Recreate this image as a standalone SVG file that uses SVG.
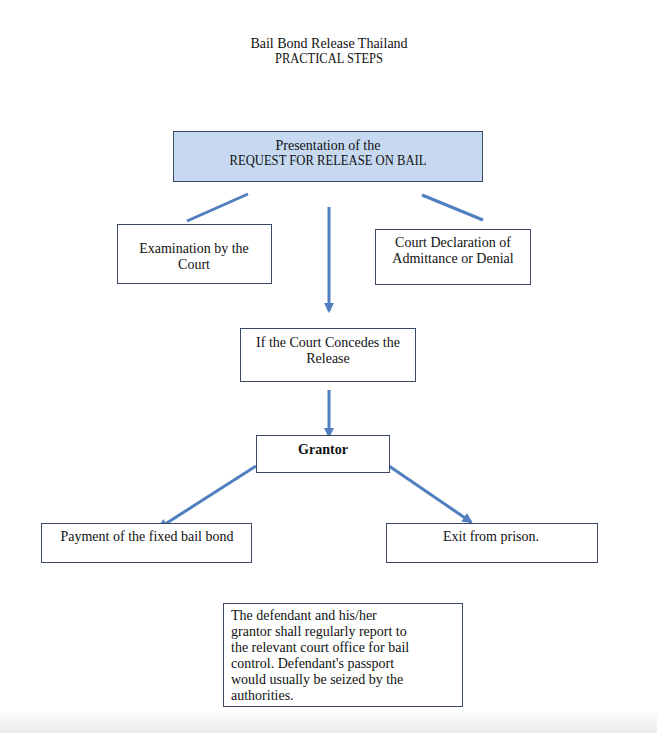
<svg xmlns="http://www.w3.org/2000/svg" width="657" height="733" viewBox="0 0 657 733">
<style>
text{font-family:"Liberation Serif","DejaVu Serif",serif;font-size:14px;fill:#111;}
.c{text-anchor:middle;}
.b{font-weight:bold;}
.box{fill:#fff;stroke:#3b4866;stroke-width:1;}
.top{fill:#c6d9f1;stroke:#3b4866;stroke-width:1;}
.ln{stroke:#4f7fbf;stroke-width:3;fill:none;}
</style>
<defs>
<marker id="ah" viewBox="0 0 10 10" refX="8" refY="5" markerWidth="3.5" markerHeight="3.5" orient="auto" markerUnits="strokeWidth">
<path d="M0,0 L10,5 L0,10 z" fill="#4f7fbf"/>
</marker>
<linearGradient id="pg" x1="0" y1="0" x2="0" y2="1">
<stop offset="0" stop-color="#fafafa"/>
<stop offset="1" stop-color="#ededed"/>
</linearGradient>
</defs>
<rect x="0" y="0" width="657" height="733" fill="#fff"/>
<rect x="0" y="713" width="657" height="20" fill="url(#pg)"/>
<g id="title">
<text class="c" x="329" y="48">Bail Bond Release Thailand</text>
<text class="c" x="329" y="63" textLength="108" lengthAdjust="spacingAndGlyphs">PRACTICAL STEPS</text>
</g>
<g id="connectors">
<line class="ln" x1="248" y1="194" x2="187" y2="221"/>
<line class="ln" x1="422" y1="195" x2="483" y2="220"/>
<line class="ln" x1="329" y1="207" x2="329" y2="311" marker-end="url(#ah)"/>
<line class="ln" x1="329" y1="390" x2="329" y2="436" marker-end="url(#ah)"/>
<line class="ln" x1="256" y1="466" x2="159" y2="528" marker-end="url(#ah)"/>
<line class="ln" x1="389" y1="466" x2="471" y2="522" marker-end="url(#ah)"/>
</g>
<g id="request">
<rect class="top" x="173.5" y="131.5" width="309" height="50"/>
<text class="c" x="328" y="150">Presentation of the</text>
<text class="c" x="328" y="165" textLength="197" lengthAdjust="spacingAndGlyphs">REQUEST FOR RELEASE ON BAIL</text>
</g>
<g id="examination">
<rect class="box" x="117.5" y="224.5" width="154" height="59"/>
<text class="c" x="194" y="253">Examination by the</text>
<text class="c" x="194" y="269">Court</text>
</g>
<g id="declaration">
<rect class="box" x="375.5" y="229.5" width="155" height="55"/>
<text class="c" x="453" y="247">Court Declaration of</text>
<text class="c" x="453" y="263">Admittance or Denial</text>
</g>
<g id="concedes">
<rect class="box" x="240.5" y="328.5" width="175" height="53"/>
<text class="c" x="328" y="347">If the Court Concedes the</text>
<text class="c" x="328" y="363">Release</text>
</g>
<g id="grantor">
<rect class="box" x="256.5" y="435.5" width="133" height="37"/>
<text class="c b" x="323" y="454">Grantor</text>
</g>
<g id="payment">
<rect class="box" x="41.5" y="523.5" width="210" height="39"/>
<text class="c" x="147" y="541">Payment of the fixed bail bond</text>
</g>
<g id="exit">
<rect class="box" x="386.5" y="523.5" width="211" height="39"/>
<text class="c" x="491" y="541">Exit from prison.</text>
</g>
<g id="note">
<rect class="box" x="223.5" y="603.5" width="239" height="103"/>
<text x="231" y="620">The defendant and his/her</text>
<text x="231" y="636">grantor shall regularly report to</text>
<text x="231" y="652">the relevant court office for bail</text>
<text x="231" y="668">control. Defendant's passport</text>
<text x="231" y="684">would usually be seized by the</text>
<text x="231" y="700">authorities.</text>
</g>
</svg>
